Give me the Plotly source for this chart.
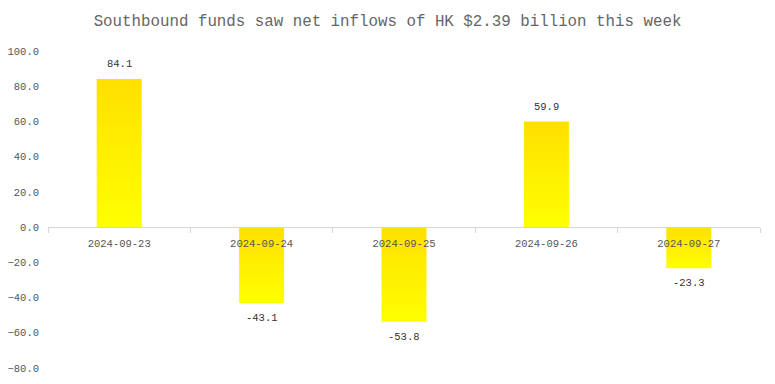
import plotly.graph_objects as go

dates = ["2024-09-23", "2024-09-24", "2024-09-25", "2024-09-26", "2024-09-27"]
net_flows = [84.1, -43.1, -53.8, 59.9, -23.3]
chart_title = "Southbound funds saw net inflows of HK $2.39 billion this week"
y_ticks = [-80, -60, -40, -20, 0, 20, 40, 60, 80, 100]

FONT = "Liberation Mono"
y_min, y_max = y_ticks[0], y_ticks[-1]
half_w = 0.158
n = len(dates)

fig = go.Figure()
for i, v in enumerate(net_flows):
    fig.add_trace(go.Scatter(
        x=[i - half_w, i + half_w, i + half_w, i - half_w, i - half_w],
        y=[0, 0, v, v, 0],
        fill="toself", mode="lines", line=dict(width=0),
        fillgradient=dict(type="vertical",
                          colorscale=[[0, "#FFFF00"], [1, "#FFE000"]]),
        showlegend=False, hoverinfo="skip",
    ))
    fig.add_annotation(x=i, y=v, text=f"{v:.1f}", showarrow=False,
                       yanchor="middle", yshift=15 if v >= 0 else -15,
                       font=dict(family=FONT, size=10.5, color="#333333"))

fig.update_layout(
    width=775, height=384,
    margin=dict(l=48, r=15, t=51, b=16),
    paper_bgcolor="white", plot_bgcolor="white",
    title=dict(text=chart_title, x=0.5, xanchor="center", y=1 - 20 / 384,
               yanchor="middle",
               font=dict(family=FONT, size=15.8, color="#666666")),
    font=dict(family=FONT, size=10, color="#555555"),
)
fig.update_xaxes(
    range=[-0.5, n - 0.5], tickmode="array", tickvals=list(range(n)),
    ticktext=dates, ticks="", showgrid=False, zeroline=False,
    showline=True, linecolor="#d6d6d6", linewidth=1,
    anchor="free", position=(0 - y_min) / (y_max - y_min),
    ticklabelstandoff=6, automargin=False,
    minor=dict(tickvals=[k - 0.5 for k in range(n + 1)], ticks="outside",
               ticklen=5, tickcolor="#d6d6d6", tickwidth=1, showgrid=False),
    tickfont=dict(family=FONT, size=10.5, color="#555555"),
)
fig.update_yaxes(
    range=[y_min, y_max], tickmode="array", tickvals=y_ticks,
    tickformat=".1f", ticks="", showgrid=False, zeroline=False,
    showline=False, ticklabelstandoff=8, automargin=False,
    tickfont=dict(family=FONT, size=10.5, color="#555555"),
)

fig.write_html("out.html", config={"displayModeBar": False},
               post_script="document.body.style.margin='0';")
